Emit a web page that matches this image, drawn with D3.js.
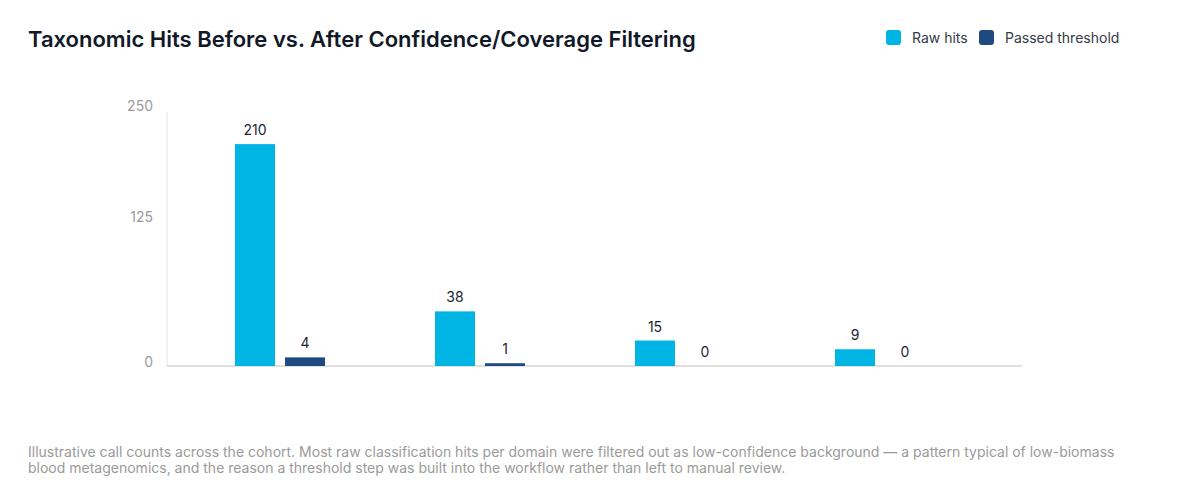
<!DOCTYPE html>
<html>
<head>
<meta charset="utf-8">
<script src="https://cdn.jsdelivr.net/npm/d3@7"></script>
<style>
  body { margin: 0; background: #fff; font-family: Inter, "Noto Sans", sans-serif; }
</style>
</head>
<body>
<div id="chart"></div>
<script>
// domains (not labelled in the chart itself)
const domains = ["Bacteria", "Viruses", "Fungi", "Parasites"];
const rawHits = [210, 38, 15, 9];
const passedHits = [4, 1, 0, 0];
const seriesNames = ["Raw hits", "Passed threshold"];
const yTicks = [0, 125, 250];

const title = "Taxonomic Hits Before vs. After Confidence/Coverage Filtering";
const noteLines = [
  "Illustrative call counts across the cohort. Most raw classification hits per domain were filtered out as low-confidence background \u2014 a pattern typical of low-biomass",
  "blood metagenomics, and the reason a threshold step was built into the workflow rather than left to manual review."
];

const width = 1194;
const height = 500;
const colors = ["#00b5e4", "#1f4a7f"];

const svg = d3.select("#chart")
  .append("svg")
  .attr("width", width)
  .attr("height", height)
  .style("display", "block");

const rows = domains.map((d, i) => ({ domain: d, values: [rawHits[i], passedHits[i]] }));

const x0 = d3.scaleBand()
  .domain(domains)
  .range([180, 980])
  .paddingInner(0.55)
  .paddingOuter(0.275);

const x1 = d3.scaleBand()
  .domain(seriesNames)
  .range([0, x0.bandwidth()])
  .paddingInner(0.2);

// bars in the original look compressed for large values, so a mild power scale
const y = d3.scalePow()
  .exponent(0.82)
  .domain([0, 250])
  .range([366, 110]);

// axis lines
svg.append("line")
  .attr("x1", 167).attr("x2", 167)
  .attr("y1", 112).attr("y2", 366)
  .attr("stroke", "#e2e2e2")
  .attr("stroke-width", 1);

svg.append("line")
  .attr("x1", 167).attr("x2", 1022)
  .attr("y1", y(0)).attr("y2", y(0))
  .attr("stroke", "#d6d6d6")
  .attr("stroke-width", 1.5);

// y tick labels
svg.append("g")
  .selectAll("text")
  .data(yTicks)
  .join("text")
  .attr("x", 153)
  .attr("y", d => y(d) - 4)
  .attr("dy", "0.35em")
  .attr("text-anchor", "end")
  .attr("font-size", 14)
  .attr("fill", "#9a9a9a")
  .text(d => d);

// bars
const groups = svg.append("g")
  .selectAll("g")
  .data(rows)
  .join("g")
  .attr("transform", d => `translate(${x0(d.domain)},0)`);

groups.selectAll("rect")
  .data(d => d.values.map((v, i) => ({ key: seriesNames[i], value: v, i })))
  .join("rect")
  .attr("x", d => x1(d.key))
  .attr("width", x1.bandwidth())
  .attr("y", d => y(d.value))
  .attr("height", d => y(0) - y(d.value))
  .attr("fill", d => colors[d.i]);

groups.selectAll("text")
  .data(d => d.values.map((v, i) => ({ key: seriesNames[i], value: v })))
  .join("text")
  .attr("x", d => x1(d.key) + x1.bandwidth() / 2)
  .attr("y", d => y(d.value) - 9)
  .attr("text-anchor", "middle")
  .attr("font-size", 14)
  .attr("fill", "#1c2333")
  .text(d => d.value);

// title
svg.append("text")
  .attr("x", 28)
  .attr("y", 47)
  .attr("font-size", 22)
  .attr("font-weight", 600)
  .attr("fill", "#111827")
  .text(title);

// legend
const legendX = [886, 979];
const legend = svg.append("g")
  .selectAll("g")
  .data(seriesNames)
  .join("g")
  .attr("transform", (d, i) => `translate(${legendX[i]},30)`);

legend.append("rect")
  .attr("width", 15)
  .attr("height", 15)
  .attr("rx", 3)
  .attr("fill", (d, i) => colors[i]);

legend.append("text")
  .attr("x", 26)
  .attr("y", 8)
  .attr("dy", "0.35em")
  .attr("font-size", 14)
  .attr("fill", "#333a45")
  .text(d => d);

// footnote
svg.append("g")
  .selectAll("text")
  .data(noteLines)
  .join("text")
  .attr("x", 28)
  .attr("y", (d, i) => 457 + i * 16)
  .attr("font-size", 14)
  .attr("fill", "#9a9a9a")
  .text(d => d);
</script>
</body>
</html>
